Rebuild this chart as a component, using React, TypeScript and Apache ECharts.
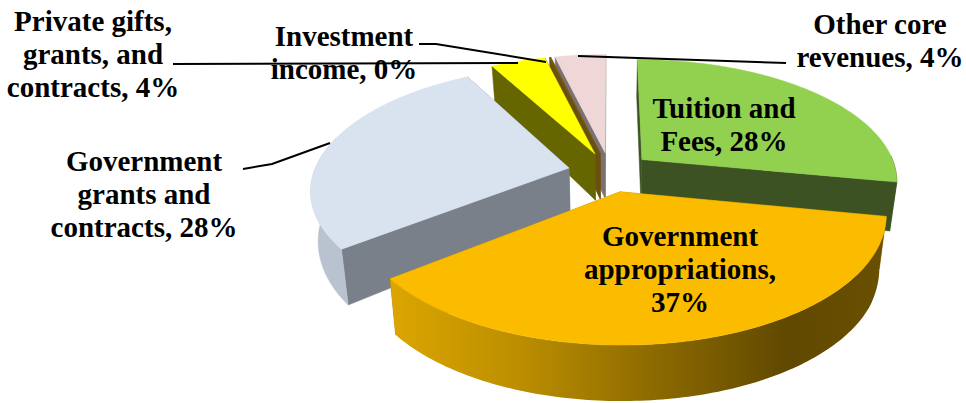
import React, { useEffect, useRef } from "react";
import * as echarts from "echarts";

// ---- data ----
const categories = [
  "Tuition and\nFees",
  "Government\nappropriations,\n",
  "Government\ngrants and\ncontracts",
  "Private gifts,\ngrants, and\ncontracts",
  "Investment\nincome",
  "Other core\nrevenues",
];
const shares = [28, 36.5, 27.5, 4.1, 0.1, 3.8];
const shownPercent = ["28%", "37%", "28%", "4%", "0%", "4%"];

// ---- styles ----
const topColors = ["#92d050", "#fbbc00", "#d9e3f0", "#ffff00", "#7c5c14", "#eed7d6"];
const edgeColors = ["#3c5223", "#a87f00", "#7a8089", "#666600", "#6a5010", "#7a7272"];
const outerColors = ["#3c5223", "#b88d00", "#b9c3d0", "#666600", "#6a5010", "#7a7272"];
const zRanks = [4, 5, 3, 2, 1, 0]; // back slices first

// label layout (anchor of the centred text block)
const labelX = [724, 680, 144, 93, 344, 880];
const labelY = [91, 219, 144, 4, 19, 7];
const leaders: number[][][] = [
  [],
  [],
  [[243, 169], [272, 164], [330, 143]],
  [[173, 64], [518, 63]],
  [[419, 44], [436, 44], [546, 62]],
  [[578, 56], [786, 63]],
];

// projection constants
const CX = 610, CY = 172, RX = 255, RY = 120.4, PERSP = 0.166, EXPLODE = 0.165, DEPTH = 48, MAX_DEPTH = 56, CONVERGE = 0.025;
const WALL_FROM = (88 * Math.PI) / 180;
const WALL_TO = (285 * Math.PI) / 180;

const total = shares.reduce((a, b) => a + b, 0);
const starts: number[] = [];
shares.reduce((acc, v, i) => {
  starts[i] = acc;
  return acc + v;
}, 0);

function project(theta: number, r: number, mid: number, bottom: boolean): number[] {
  const X = r * Math.sin(theta) + EXPLODE * Math.sin(mid);
  const Y = r * Math.cos(theta) + EXPLODE * Math.cos(mid);
  const s = 1 / (1 + PERSP * Y);
  let sx = CX + RX * X * s;
  let sy = CY - RY * Y * s;
  if (bottom) {
    sx = CX + (sx - CX) * (1 - CONVERGE);
    sy += Math.min(DEPTH * Math.pow(s, 1.5), MAX_DEPTH);
  }
  return [sx, sy];
}

function arcPoints(a0: number, a1: number, mid: number, bottom: boolean): number[][] {
  const pts: number[][] = [];
  const n = Math.max(4, Math.ceil(((a1 - a0) * 180) / Math.PI));
  for (let i = 0; i <= n; i++) pts.push(project(a0 + ((a1 - a0) * i) / n, 1, mid, bottom));
  return pts;
}

const approWall = new echarts.graphic.LinearGradient(0, 0, 1, 0, [
  { offset: 0, color: "#dca600" },
  { offset: 0.25, color: "#bd8f00" },
  { offset: 0.55, color: "#8a6800" },
  { offset: 0.8, color: "#604800" },
  { offset: 1, color: "#6a5000" },
]);

function renderSlice(params: any, api: any) {
  const idx = api.value(0) as number;
  const value = api.value(1) as number;
  const a0 = (starts[idx] / total) * Math.PI * 2;
  const a1 = a0 + (value / total) * Math.PI * 2;
  const mid = (a0 + a1) / 2;
  const apexT = project(0, 0, mid, false);
  const apexB = project(0, 0, mid, true);
  const arcT = arcPoints(a0, a1, mid, false);
  const arcB = arcPoints(a0, a1, mid, true);
  const last = arcT.length - 1;
  const poly = (points: number[][], fill: any) => ({
    type: "polygon",
    shape: { points },
    style: { fill, stroke: typeof fill === "string" ? fill : undefined, lineWidth: 0.5 },
  });
  const children: any[] = [
    poly([apexT, apexB, arcB[last], arcT[last]], edgeColors[idx]),
    poly([apexT, apexB, arcB[0], arcT[0]], edgeColors[idx]),
  ];
  const w0 = Math.max(a0, WALL_FROM);
  const w1 = Math.min(a1, WALL_TO);
  if (w1 > w0) {
    const wT = arcPoints(w0, w1, mid, false);
    const wB = arcPoints(w0, w1, mid, true);
    children.push(poly([...wT, ...wB.reverse()], idx === 1 ? approWall : outerColors[idx]));
  }
  children.push(poly([apexT, ...arcT], topColors[idx]));
  return { type: "group", children };
}

export default function App() {
  const ref = useRef<HTMLDivElement>(null);
  useEffect(() => {
    const chart = echarts.init(ref.current!, undefined, { renderer: "svg" });
    const textEls = categories.map((name, i) => {
      const sep = name.endsWith("\n") ? "" : ", ";
      return {
        type: "text",
        z: 50,
        x: labelX[i],
        y: labelY[i],
        style: {
          text: `${name}${sep}${shownPercent[i]}`,
          fill: "#000",
          font: 'bold 29px "Liberation Serif"',
          lineHeight: 33,
          align: "center",
          verticalAlign: "top",
        },
      };
    });
    const lineEls = leaders
      .filter((l) => l.length > 0)
      .map((points) => ({
        type: "polyline",
        z: 60,
        shape: { points },
        style: { stroke: "#000", lineWidth: 2, fill: "none" },
      }));
    chart.setOption({
      animation: false,
      backgroundColor: "#fff",
      graphic: [...textEls, ...lineEls],
      series: shares.map((v, i) => ({
        type: "custom",
        coordinateSystem: "none",
        name: categories[i].replace(/\n/g, " "),
        z: 2 + zRanks[i],
        silent: true,
        renderItem: renderSlice,
        data: [[i, v]],
      })),
    });
    return () => chart.dispose();
  }, []);
  return <div ref={ref} style={{ position: "fixed", left: 0, top: 0, width: 966, height: 403 }} />;
}
